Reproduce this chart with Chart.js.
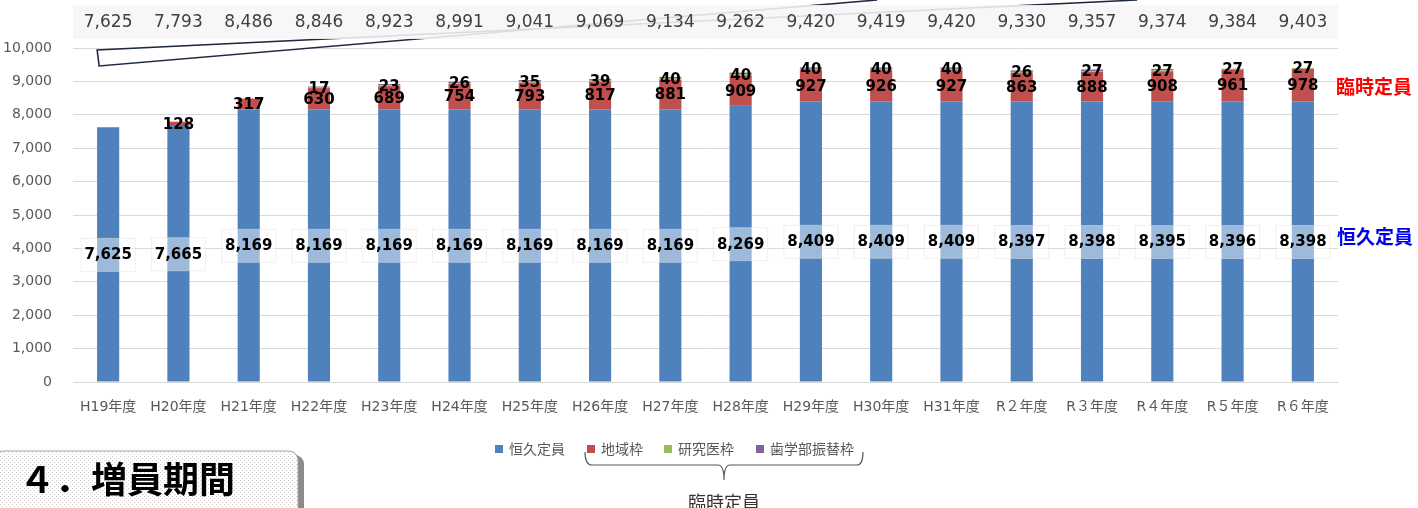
<!DOCTYPE html>
<html>
<head>
<meta charset="utf-8">
<script src="https://cdn.jsdelivr.net/npm/chart.js@4"></script>
<style>
  html, body { margin: 0; padding: 0; background: #fff; }
  #wrap { width: 1418px; height: 508px; position: relative; overflow: hidden; }
</style>
</head>
<body>
<div id="wrap"><canvas id="myChart" width="1418" height="508"></canvas></div>
<script>
// 年度
const labels = ["H19年度", "H20年度", "H21年度", "H22年度", "H23年度", "H24年度", "H25年度", "H26年度", "H27年度",
  "H28年度", "H29年度", "H30年度", "H31年度", "R２年度", "R３年度", "R４年度", "R５年度", "R６年度"];
const permanent = [7625, 7665, 8169, 8169, 8169, 8169, 8169, 8169, 8169, 8269, 8409, 8409, 8409, 8397, 8398, 8395, 8396, 8398];
const regional = [0, 128, 317, 630, 689, 754, 793, 817, 881, 909, 927, 926, 927, 863, 888, 908, 961, 978];
const research = [0, 0, 0, 17, 23, 26, 35, 39, 40, 40, 40, 40, 40, 26, 27, 27, 27, 27];
const dental = [0, 0, 0, 30, 42, 42, 44, 44, 44, 44, 44, 44, 44, 44, 44, 44, 0, 0];
const totals = [7625, 7793, 8486, 8846, 8923, 8991, 9041, 9069, 9134, 9262, 9420, 9419, 9420, 9330, 9357, 9374, 9384, 9403];
const yTicks = [0, 1000, 2000, 3000, 4000, 5000, 6000, 7000, 8000, 9000, 10000];

const FONT = '"DejaVu Sans", "Noto Sans CJK JP", sans-serif';
const JP = '"Noto Sans CJK JP", sans-serif';
const fmt = v => v.toLocaleString("en-US");

const overlay = {
  id: "overlay",
  beforeDatasetsDraw(chart) {
    const ctx = chart.ctx;
    const a = chart.chartArea;
    const x0 = chart.scales.x.getPixelForValue(0) - 11;
    // 増加の矢印（飾り）
    ctx.save();
    ctx.beginPath();
    ctx.moveTo(x0, a.top + 2);
    ctx.lineTo(x0 + 1040, a.top - 48);
    ctx.lineTo(x0 + 780, a.top - 48);
    ctx.lineTo(x0 + 2, a.top + 18);
    ctx.closePath();
    ctx.fillStyle = "#fff";
    ctx.fill();
    ctx.strokeStyle = "#1f2940";
    ctx.lineWidth = 1.6;
    ctx.beginPath();
    ctx.moveTo(x0 + 1040, a.top - 48);
    ctx.lineTo(x0, a.top + 2);
    ctx.lineTo(x0 + 2, a.top + 18);
    ctx.lineTo(x0 + 780, a.top - 48);
    ctx.stroke();
    // 合計の帯
    ctx.fillStyle = "rgba(246,246,246,0.88)";
    ctx.fillRect(a.left, 5, a.right - a.left, 34);
    ctx.fillStyle = "#404040";
    ctx.font = "17px " + FONT;
    ctx.textAlign = "center";
    ctx.textBaseline = "middle";
    totals.forEach((t, i) => {
      ctx.fillText(fmt(t), chart.scales.x.getPixelForValue(i), 23);
    });
    ctx.restore();
  },
  afterDatasetsDraw(chart) {
    const ctx = chart.ctx;
    ctx.save();
    ctx.textAlign = "center";
    ctx.textBaseline = "middle";
    ctx.font = "bold 15px " + FONT;
    const blue = chart.getDatasetMeta(0).data;
    blue.forEach((el, i) => {
      const cy = (el.y + el.base) / 2;
      ctx.fillStyle = "rgba(255,255,255,0.45)";
      ctx.fillRect(el.x - 27, cy - 16, 54, 33);
      ctx.strokeStyle = "rgba(225,225,225,0.5)";
      ctx.lineWidth = 1;
      ctx.strokeRect(el.x - 27, cy - 16, 54, 33);
      ctx.fillStyle = "#000";
      ctx.fillText(fmt(permanent[i]), el.x, cy + 1);
    });
    [[1, regional], [2, research]].forEach(([d, vals]) => {
      chart.getDatasetMeta(d).data.forEach((el, i) => {
        if (!vals[i]) return;
        ctx.fillStyle = "#000";
        ctx.fillText(fmt(vals[i]), el.x, (el.y + el.base) / 2 + 1);
      });
    });
    ctx.restore();
  },
  afterDraw(chart) {
    const ctx = chart.ctx;
    ctx.save();
    // 右側のラベル
    ctx.textAlign = "left";
    ctx.textBaseline = "middle";
    ctx.font = "bold 19px " + JP;
    ctx.fillStyle = "#ff0000";
    ctx.fillText("臨時定員", 1336, 87);
    ctx.fillStyle = "#0000ee";
    ctx.fillText("恒久定員", 1337, 237);

    // 凡例
    const legend = [["恒久定員", "#4f81bd", 495], ["地域枠", "#c0504d", 587], ["研究医枠", "#9bbb59", 664], ["歯学部振替枠", "#8064a2", 756]];
    ctx.font = "14px " + JP;
    legend.forEach(([t, c, x]) => {
      ctx.fillStyle = c;
      ctx.fillRect(x, 445, 8, 8);
      ctx.fillStyle = "#595959";
      ctx.fillText(t, x + 14, 449);
    });
    // 中括弧
    ctx.strokeStyle = "#595959";
    ctx.lineWidth = 1.2;
    ctx.beginPath();
    ctx.moveTo(585, 452);
    ctx.quadraticCurveTo(585, 465, 592, 465);
    ctx.lineTo(718, 465);
    ctx.quadraticCurveTo(724, 465, 724, 480);
    ctx.quadraticCurveTo(724, 465, 730, 465);
    ctx.lineTo(857, 465);
    ctx.quadraticCurveTo(863, 465, 863, 452);
    ctx.stroke();
    ctx.fillStyle = "#333";
    ctx.textAlign = "center";
    ctx.font = "18px " + JP;
    ctx.fillText("臨時定員", 724, 502);

    // 見出しボックス
    const pc = document.createElement("canvas");
    pc.width = 4; pc.height = 4;
    const pctx = pc.getContext("2d");
    pctx.fillStyle = "#fff";
    pctx.fillRect(0, 0, 4, 4);
    pctx.fillStyle = "#cccccc";
    pctx.fillRect(0, 0, 1, 1);
    pctx.fillRect(2, 2, 1, 1);
    const rr = (x, y, w, h, r) => {
      ctx.beginPath();
      ctx.roundRect(x, y, w, h, r);
    };
    ctx.fillStyle = "#8a8a8a";
    rr(2, 455, 302, 70, 9);
    ctx.fill();
    ctx.fillStyle = ctx.createPattern(pc, "repeat");
    rr(-6, 451, 304, 70, 9);
    ctx.fill();
    ctx.strokeStyle = "#a0a0a0";
    ctx.lineWidth = 1;
    ctx.stroke();
    ctx.fillStyle = "#000";
    ctx.textAlign = "left";
    ctx.font = "bold 36px " + JP;
    ctx.fillText("４．増員期間", 19, 479);
    ctx.restore();
  }
};

const ctx = document.getElementById("myChart").getContext("2d");
const config = {
  type: "bar",
  data: {
    labels: labels,
    datasets: [
      { label: "恒久定員", data: permanent, backgroundColor: "#4f81bd" },
      { label: "地域枠", data: regional, backgroundColor: "#c0504d" },
      { label: "研究医枠", data: research, backgroundColor: "#9bbb59" },
      { label: "歯学部振替枠", data: dental, backgroundColor: "#8064a2" },
    ],
  },
  options: {
    responsive: false,
    animation: false,
    devicePixelRatio: 1,
    layout: { padding: { left: 0, right: 80, top: 48, bottom: 0 } },
    plugins: { legend: { display: false }, tooltip: { enabled: false } },
    datasets: { bar: { categoryPercentage: 1, barPercentage: 0.315 } },
    scales: {
      x: {
        stacked: true,
        grid: { display: false, drawTicks: false },
        border: { color: "#d9d9d9" },
        ticks: { color: "#595959", font: { size: 14, family: FONT }, padding: 17, maxRotation: 0, autoSkip: false },
        afterFit: s => { s.height = 126; },
      },
      y: {
        stacked: true,
        min: 0,
        max: 10000,
        afterBuildTicks: s => { s.ticks = yTicks.map(v => ({ value: v })); },
        grid: { color: "#d9d9d9", drawTicks: false },
        border: { display: false },
        ticks: { color: "#595959", font: { size: 14, family: FONT }, padding: 21, callback: v => fmt(v) },
        afterFit: s => { s.width = 73; },
      },
    },
  },
  plugins: [overlay],
};

const myChart = new Chart(ctx, config);
</script>
</body>
</html>
